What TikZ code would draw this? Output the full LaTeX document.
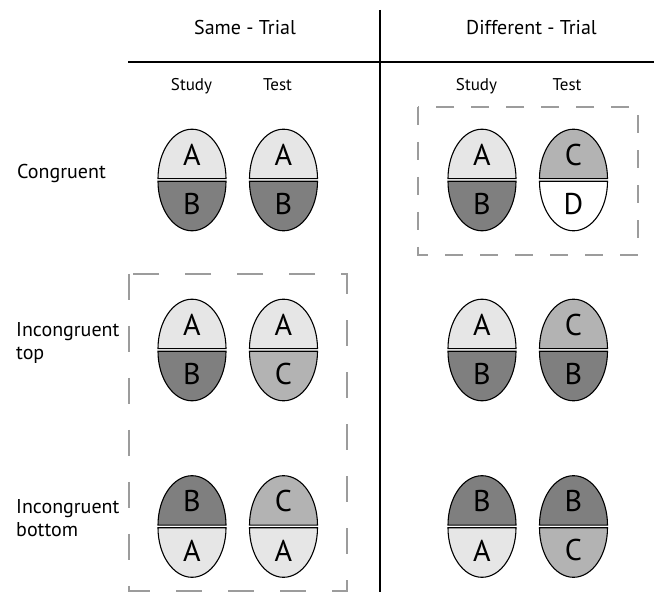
\documentclass[tikz,border=0pt]{standalone}
\usepackage{fontspec}
\setmainfont{PT Sans}
\usetikzlibrary{positioning}
\definecolor{lightpart}{HTML}{E6E6E6}
\definecolor{darkpart}{HTML}{7F7F7F}
\definecolor{midpart}{HTML}{B3B3B3}
\definecolor{boxgray}{HTML}{9C9C9C}
\tikzset{
    x=1pt, y=1pt, % one unit is one pixel of the figure
    half/.style={draw=black, line width=1.1pt}, % outline of each half of a capsule
    letter/.style={font=\fontsize{30}{30}\selectfont, inner sep=0pt}, % the big letter in a half
    head/.style={font=\fontsize{20}{22}\selectfont, anchor=base}, % column headings
    sub/.style={font=\fontsize{17}{19}\selectfont, anchor=base}, % Study / Test
    rowlabel/.style={font=\fontsize{20}{23}\selectfont, anchor=base west, align=left, inner sep=0pt}, % base = last line
    rule/.style={draw=black, line width=1.4pt},
    frame/.style={draw=boxgray, line width=1.6pt, dash pattern=on 18pt off 17pt}, % small dashed box
    bigframe/.style={draw=boxgray, line width=1.6pt, dash pattern=on 26pt off 26pt}, % tall dashed box
}
% #1 name, #2 x, #3 y, #4 top letter, #5 top colour, #6 bottom letter, #7 bottom colour
\newcommand{\capsule}[7]{%
    \draw[half, fill=#5] ({#2+34},{#3+1.3}) arc[start angle=0, end angle=180, x radius=34, y radius=49.5] -- cycle;
    \draw[half, fill=#7] ({#2-34},{#3-1.3}) arc[start angle=180, end angle=360, x radius=34, y radius=49.5] -- cycle;
    \node[letter] (#1-top) at ({#2},{#3+25}) {#4};
    \node[letter] (#1-bot) at ({#2},{#3-24}) {#6};
}

\begin{document}
\begin{tikzpicture}
    \useasboundingbox (0,0) rectangle (654,592);
    % table rules
    \draw[rule] (380,582) -- (380,0);
    \draw[rule] (128,530) -- (654,530);
    % headings
    \node[head] (same) at (245,557) {Same - Trial};
    \node[head] (diff) at (531.5,557) {Different - Trial};
    \node[sub] (sstudy) at (191.5,501) {Study};
    \node[sub] (stest) at (277.5,501) {Test};
    \node[sub] (dstudy) at (476.5,501) {Study};
    \node[sub] (dtest) at (567,501) {Test};
    % rows
    \node[rowlabel] (cong) at (17,413) {Congruent};
    \node[rowlabel] (inctop) at (16,232) {Incongruent\\top};
    \node[rowlabel] (incbot) at (16,55) {Incongruent\\bottom};
    % dashed boxes
    \draw[frame] (418,485) rectangle (638,337);
    \draw[bigframe] (129,318) rectangle (347,1);
    % capsules
    \capsule{ss1}{192}{412}{A}{lightpart}{B}{darkpart}
    \capsule{st1}{283.5}{412}{A}{lightpart}{B}{darkpart}
    \capsule{ds1}{482}{412}{A}{lightpart}{B}{darkpart}
    \capsule{dt1}{573.5}{412}{C}{midpart}{D}{white}
    \capsule{ss2}{192}{242}{A}{lightpart}{B}{darkpart}
    \capsule{st2}{283.5}{242}{A}{lightpart}{C}{midpart}
    \capsule{ds2}{482}{242}{A}{lightpart}{B}{darkpart}
    \capsule{dt2}{573.5}{242}{C}{midpart}{B}{darkpart}
    \capsule{ss3}{192}{65.5}{B}{darkpart}{A}{lightpart}
    \capsule{st3}{283.5}{65.5}{C}{midpart}{A}{lightpart}
    \capsule{ds3}{482}{65.5}{B}{darkpart}{A}{lightpart}
    \capsule{dt3}{573.5}{65.5}{B}{darkpart}{C}{midpart}
\end{tikzpicture}
\end{document}
